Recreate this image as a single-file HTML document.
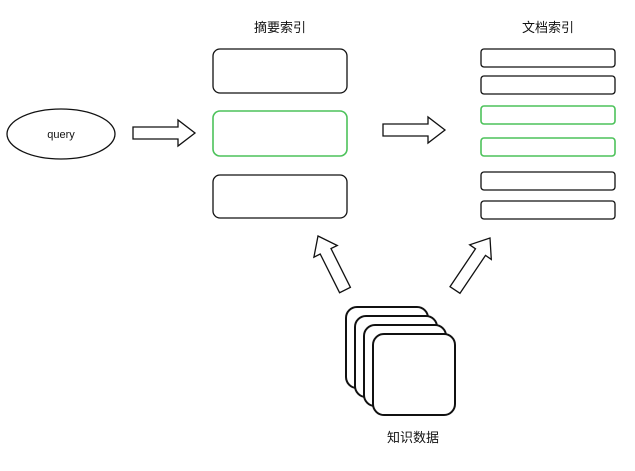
<!DOCTYPE html>
<html><head><meta charset="utf-8"><style>
html,body{margin:0;padding:0;background:#fff;}
text{font-family:"Liberation Sans","Noto Sans CJK SC",sans-serif;fill:#111;}
</style></head><body>
<svg width="635" height="466" viewBox="0 0 635 466" xmlns="http://www.w3.org/2000/svg">
<g fill="#fff" stroke="#111" stroke-width="1.3">
<ellipse cx="61" cy="134" rx="54" ry="25"/>
<polygon points="133,127 178,127 178,120 195,133 178,146 178,139 133,139"/>
<polygon points="383,124 428,124 428,117 445,130 428,143 428,136 383,136"/>
<rect x="213" y="49" width="134" height="44" rx="7"/>
<rect x="213" y="175" width="134" height="43" rx="7"/>
<rect x="481" y="49" width="134" height="18" rx="3"/>
<rect x="481" y="76" width="134" height="18" rx="3"/>
<rect x="481" y="172" width="134" height="18" rx="3"/>
<rect x="481" y="201" width="134" height="18" rx="3"/>
<polygon points="350.4,287.3 331,248.6 337.3,245.5 318,236 313.9,257.2 320.2,254 339.6,292.7"/>
<polygon points="460,293.3 485.5,255.4 491.3,259.4 490,238 469.7,244.8 475.5,248.8 450,286.7"/>
<rect x="346" y="307" width="82" height="81" rx="11" stroke-width="2"/>
<rect x="355" y="316" width="82" height="81" rx="11" stroke-width="2"/>
<rect x="364" y="325" width="82" height="81" rx="11" stroke-width="2"/>
<rect x="373" y="334" width="82" height="81" rx="11" stroke-width="2"/>
</g>
<g fill="#fff" stroke="#4cc25a" stroke-width="1.6">
<rect x="213" y="111" width="134" height="45" rx="7"/>
<rect x="481" y="106" width="134" height="18" rx="3"/>
<rect x="481" y="138" width="134" height="18" rx="3"/>
</g>
<text x="61" y="138" font-size="11" text-anchor="middle">query</text>
<text x="280" y="32" font-size="13" text-anchor="middle">摘要索引</text>
<text x="548" y="32" font-size="13" text-anchor="middle">文档索引</text>
<text x="413" y="442" font-size="13" text-anchor="middle">知识数据</text>
</svg>
</body></html>
